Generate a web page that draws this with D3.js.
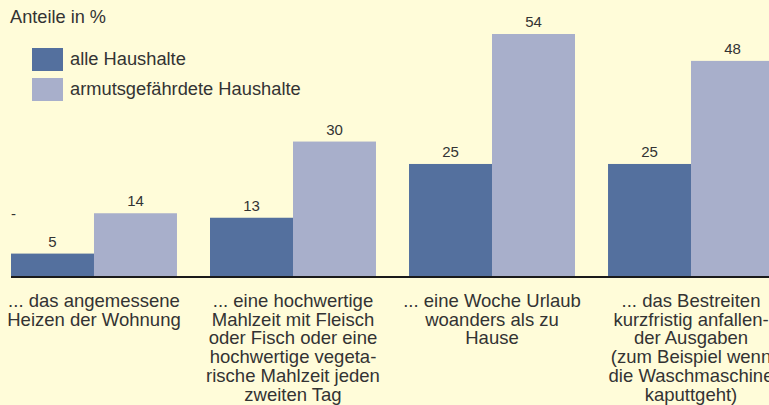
<!DOCTYPE html>
<html>
<head>
<meta charset="utf-8">
<script src="https://cdn.jsdelivr.net/npm/d3@7"></script>
<style>
  html, body { margin: 0; padding: 0; background: #fffcd9; }
  svg { display: block; font-family: "Liberation Sans", Arial, sans-serif; }
</style>
</head>
<body>
<div id="chart"></div>
<script>
// Data
const categories = ["heizen", "mahlzeit", "urlaub", "ausgaben"];
const categoryLabels = [
  ["... das angemessene", "Heizen der Wohnung"],
  ["... eine hochwertige", "Mahlzeit mit Fleisch", "oder Fisch oder eine", "hochwertige vegeta-", "rische Mahlzeit jeden", "zweiten Tag"],
  ["... eine Woche Urlaub", "woanders als zu", "Hause"],
  ["... das Bestreiten", "kurzfristig anfallen-", "der Ausgaben", "(zum Beispiel wenn", "die Waschmaschine", "kaputtgeht)"]
];
const seriesNames = ["alle Haushalte", "armutsgefährdete Haushalte"];
const alleHaushalte = [5, 13, 25, 25];
const armutsgefaehrdet = [14, 30, 54, 48];
const colors = ["#54709e", "#a8afcb"];

const width = 769, height = 405;
const baseY = 276;

const svg = d3.select("#chart").append("svg")
  .attr("width", width)
  .attr("height", height);

svg.append("rect").attr("width", width).attr("height", height).attr("fill", "#fffcd9");

const x0 = d3.scaleBand()
  .domain(categories)
  .range([11, 774])
  .paddingInner(0.166)
  .paddingOuter(0);

const x1 = d3.scaleBand()
  .domain(seriesNames)
  .range([0, x0.bandwidth()]);

const y = d3.scaleLinear()
  .domain([0, 54])
  .range([baseY, 34]);

const rows = categories.map((c, i) => ({
  key: c,
  values: [
    {series: seriesNames[0], value: alleHaushalte[i]},
    {series: seriesNames[1], value: armutsgefaehrdet[i]}
  ]
}));

const color = d3.scaleOrdinal().domain(seriesNames).range(colors);

const groups = svg.selectAll(".group")
  .data(rows)
  .enter().append("g")
  .attr("class", "group")
  .attr("transform", d => `translate(${x0(d.key)},0)`);

groups.selectAll("rect")
  .data(d => d.values)
  .enter().append("rect")
  .attr("x", d => x1(d.series))
  .attr("y", d => y(d.value))
  .attr("width", x1.bandwidth())
  .attr("height", d => baseY - y(d.value))
  .attr("fill", d => color(d.series));

groups.selectAll(".val")
  .data(d => d.values)
  .enter().append("text")
  .attr("class", "val")
  .attr("x", d => x1(d.series) + x1.bandwidth() / 2)
  .attr("y", d => y(d.value) - 7)
  .attr("text-anchor", "middle")
  .attr("font-size", 15)
  .attr("fill", "#333")
  .text(d => d.value);

// baseline
svg.append("line")
  .attr("x1", 11).attr("x2", width)
  .attr("y1", baseY + 1).attr("y2", baseY + 1)
  .attr("stroke", "#1a1a1a")
  .attr("stroke-width", 2);

// stray mark
svg.append("text")
  .attr("x", 11).attr("y", 219)
  .attr("font-size", 15).attr("fill", "#333")
  .text("-");

// category labels
const labels = svg.selectAll(".cat")
  .data(rows)
  .enter().append("text")
  .attr("class", "cat")
  .attr("text-anchor", "middle")
  .attr("font-size", 18.5)
  .attr("fill", "#333");

labels.selectAll("tspan")
  .data((d, i) => categoryLabels[i].map(l => ({line: l, key: d.key})))
  .enter().append("tspan")
  .attr("x", d => x0(d.key) + x0.bandwidth() / 2)
  .attr("y", (d, i) => 307 + i * 18.7)
  .text(d => d.line);

// title
svg.append("text")
  .attr("x", 10).attr("y", 22.5)
  .attr("font-size", 18.2).attr("fill", "#333")
  .text("Anteile in %");

// legend
const legend = svg.selectAll(".legend")
  .data(seriesNames)
  .enter().append("g")
  .attr("class", "legend")
  .attr("transform", (d, i) => `translate(32,${48 + i * 30})`);

legend.append("rect")
  .attr("width", 31).attr("height", 23)
  .attr("fill", d => color(d));

legend.append("text")
  .attr("x", 38).attr("y", 17)
  .attr("font-size", 18.3).attr("fill", "#333")
  .text(d => d);
</script>
</body>
</html>
